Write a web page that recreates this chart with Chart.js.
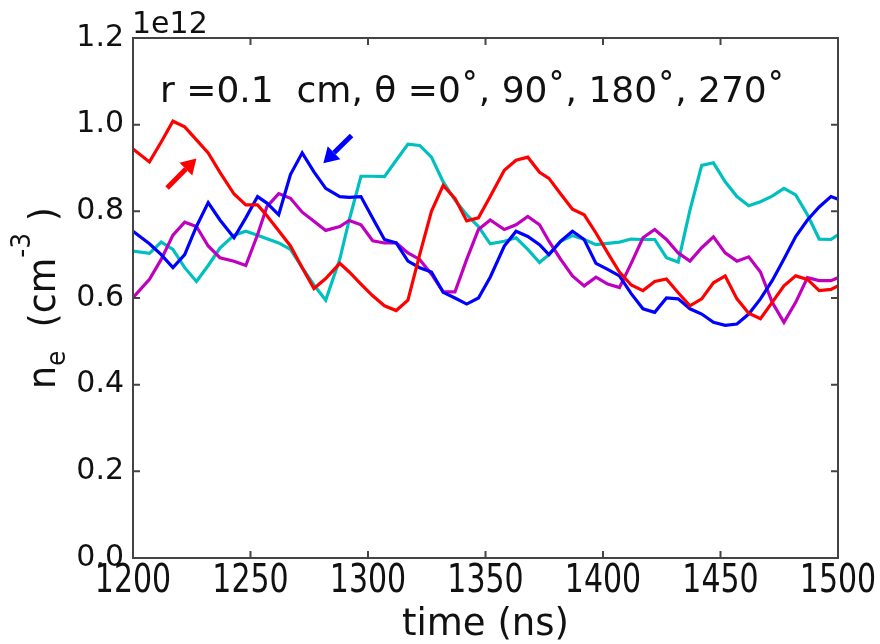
<html><head><meta charset="utf-8">
<script src="https://cdn.jsdelivr.net/npm/chart.js@4.4.0/dist/chart.umd.min.js"></script>
<style>
 body { margin:0; background:#fff; }
 #wrap { width:880px; height:644px; }
</style>
</head>
<body>
<div id="wrap"><canvas id="myChart" width="880" height="644"></canvas></div>
<script>
// time in ns, density in units of 1e12 cm^-3
var times = [1200,1207,1212,1217,1222,1227,1232,1237,1243,1248,1253,1257,1262,1267,1272,1277,1282,1288,1292,1297,
             1302,1307,1312,1317,1322,1327,1332,1337,1342,1347,1352,1358,1363,1368,1373,1377,1382,1387,1392,1397,
             1402,1407,1412,1417,1422,1427,1432,1437,1442,1447,1452,1457,1462,1467,1472,1477,1482,1487,1492,1497,1500];

var red = [0.944,0.914,0.960,1.008,0.995,0.965,0.935,0.890,0.840,0.815,0.815,0.790,0.755,0.720,0.670,0.622,0.645,0.680,0.660,0.632,
           0.605,0.582,0.571,0.595,0.700,0.800,0.860,0.830,0.778,0.785,0.834,0.895,0.918,0.925,0.890,0.876,0.840,0.805,0.792,0.750,
           0.704,0.660,0.630,0.617,0.638,0.644,0.612,0.582,0.598,0.635,0.651,0.598,0.565,0.552,0.590,0.628,0.651,0.643,0.617,0.620,0.628];

var blue = [0.754,0.725,0.700,0.670,0.700,0.765,0.820,0.780,0.739,0.785,0.834,0.819,0.792,0.885,0.935,0.891,0.853,0.834,0.832,0.834,
            0.784,0.735,0.727,0.685,0.670,0.660,0.613,0.600,0.586,0.600,0.648,0.720,0.754,0.742,0.723,0.700,0.731,0.754,0.735,0.680,
            0.666,0.651,0.610,0.575,0.567,0.600,0.598,0.575,0.563,0.544,0.537,0.540,0.563,0.598,0.640,0.690,0.742,0.780,0.810,0.834,0.828];

var cyan = [0.708,0.703,0.729,0.712,0.670,0.638,0.675,0.715,0.745,0.754,0.745,0.737,0.727,0.712,0.670,0.630,0.595,0.690,0.780,0.881,
            0.881,0.880,0.918,0.955,0.952,0.925,0.868,0.826,0.792,0.765,0.725,0.731,0.739,0.712,0.682,0.700,0.731,0.744,0.735,0.723,
            0.726,0.729,0.736,0.735,0.735,0.693,0.683,0.803,0.906,0.912,0.868,0.834,0.813,0.822,0.835,0.853,0.838,0.792,0.736,0.735,0.746];

var magenta = [0.601,0.643,0.689,0.745,0.775,0.765,0.720,0.693,0.685,0.675,0.746,0.811,0.841,0.830,0.798,0.777,0.756,0.765,0.779,0.769,
               0.732,0.727,0.727,0.704,0.689,0.655,0.614,0.614,0.689,0.758,0.780,0.758,0.769,0.788,0.769,0.731,0.689,0.651,0.628,0.648,
               0.632,0.624,0.680,0.739,0.758,0.735,0.704,0.685,0.716,0.741,0.704,0.685,0.695,0.660,0.590,0.544,0.590,0.647,0.640,0.640,0.647];

var xTicks = [1200,1250,1300,1350,1400,1450,1500];
var yTicks = [0,0.2,0.4,0.6,0.8,1.0,1.2];
var yTickLabels = ['0.0','0.2','0.4','0.6','0.8','1.0','1.2'];

// arrows: [tailTime, tailValue, headTime, headValue, colour]
var arrows = [
  [1214.5, 0.854, 1227, 0.922, '#ff0000'],
  [1293, 0.975, 1281, 0.911, '#0000ff']
];

function pts(ys) {
  return ys.map(function (v, i) { return {x: times[i], y: v}; });
}

var FONT = '"DejaVu Sans", sans-serif';

var frame = {
  id: 'frame',
  afterDraw: function (chart) {
    var ctx = chart.ctx, a = chart.chartArea;
    var xs = chart.scales.x, ys = chart.scales.y;
    ctx.save();

    // arrows
    arrows.forEach(function (ar) {
      var x0 = xs.getPixelForValue(ar[0]), y0 = ys.getPixelForValue(ar[1]);
      var x1 = xs.getPixelForValue(ar[2]), y1 = ys.getPixelForValue(ar[3]);
      var ang = Math.atan2(y1 - y0, x1 - x0), hl = 15, hw = 9;
      var bx = x1 - hl * Math.cos(ang), by = y1 - hl * Math.sin(ang);
      ctx.strokeStyle = ar[4]; ctx.fillStyle = ar[4];
      ctx.lineWidth = 5; ctx.lineCap = 'butt';
      ctx.beginPath(); ctx.moveTo(x0, y0); ctx.lineTo(bx, by); ctx.stroke();
      ctx.beginPath();
      ctx.moveTo(x1, y1);
      ctx.lineTo(bx + hw * Math.sin(ang), by - hw * Math.cos(ang));
      ctx.lineTo(bx - hw * Math.sin(ang), by + hw * Math.cos(ang));
      ctx.closePath(); ctx.fill();
    });

    // box + inward ticks
    ctx.strokeStyle = '#444'; ctx.lineWidth = 2;
    ctx.strokeRect(a.left, a.top, a.right - a.left, a.bottom - a.top);
    ctx.beginPath();
    xTicks.forEach(function (v) {
      var p = xs.getPixelForValue(v);
      ctx.moveTo(p, a.bottom); ctx.lineTo(p, a.bottom - 7);
      ctx.moveTo(p, a.top); ctx.lineTo(p, a.top + 7);
    });
    yTicks.forEach(function (v) {
      var p = ys.getPixelForValue(v);
      ctx.moveTo(a.left, p); ctx.lineTo(a.left + 7, p);
      ctx.moveTo(a.right, p); ctx.lineTo(a.right - 7, p);
    });
    ctx.stroke();

    ctx.fillStyle = '#111';
    // y tick labels
    ctx.font = '30px ' + FONT;
    ctx.textAlign = 'right'; ctx.textBaseline = 'middle';
    yTicks.forEach(function (v, i) {
      ctx.fillText(yTickLabels[i], a.left - 9, ys.getPixelForValue(v));
    });
    // x tick labels (slightly tall, like the original)
    ctx.textAlign = 'center'; ctx.textBaseline = 'alphabetic';
    xTicks.forEach(function (v) {
      ctx.save();
      ctx.translate(xs.getPixelForValue(v), a.bottom + 34);
      ctx.scale(1, 1.3);
      ctx.fillText(String(v), 0, 0);
      ctx.restore();
    });

    // offset text
    ctx.textAlign = 'left';
    ctx.fillText('1e12', a.left - 1, a.top - 5);

    // x title
    ctx.font = '37px ' + FONT;
    ctx.textAlign = 'center';
    ctx.fillText('time (ns)', (a.left + a.right) / 2, 635);

    // annotation
    ctx.font = '36px ' + FONT;
    ctx.textAlign = 'left';
    ctx.fillText('r =0.1  cm, \u03b8 =0\u02da, 90\u02da, 180\u02da, 270\u02da', a.left + 27, a.top + 64);

    // y title: n_e (cm^-3)
    var F = 38, f2 = 26;
    var parts = [
      ['n', F, 0], ['e', f2, 10], ['  (cm', F, 0], ['-3', f2, -25], [' )', F, 0]
    ];
    var total = 0;
    parts.forEach(function (p) { ctx.font = p[1] + 'px ' + FONT; p.push(ctx.measureText(p[0]).width); total += p[3]; });
    var sx = 182 / total;
    ctx.save();
    ctx.translate(55, (a.top + a.bottom) / 2);
    ctx.rotate(-Math.PI / 2);
    ctx.scale(sx, 1);
    var cx = -total / 2;
    ctx.textAlign = 'left';
    parts.forEach(function (p) {
      ctx.font = p[1] + 'px ' + FONT;
      ctx.fillText(p[0], cx, p[2]);
      cx += p[3];
    });
    ctx.restore();

    ctx.restore();
  }
};

var ctx = document.getElementById('myChart');
var myChart = new Chart(ctx, {
  type: 'line',
  data: {
    datasets: [
      {label: 'red', data: pts(red), borderColor: '#ff0000'},
      {label: 'blue', data: pts(blue), borderColor: '#0000ff'},
      {label: 'magenta', data: pts(magenta), borderColor: '#bf00bf'},
      {label: 'cyan', data: pts(cyan), borderColor: '#00bfbf'}
    ]
  },
  options: {
    responsive: false,
    animation: false,
    layout: { padding: { left: 133, top: 38, right: 42, bottom: 86 } },
    elements: { line: { borderWidth: 3.2, tension: 0, fill: false }, point: { radius: 0 } },
    plugins: { legend: { display: false }, tooltip: { enabled: false } },
    scales: {
      x: { type: 'linear', min: 1200, max: 1500, display: false },
      y: { type: 'linear', min: 0, max: 1.2, display: false }
    }
  },
  plugins: [frame]
});
</script>
</body></html>
